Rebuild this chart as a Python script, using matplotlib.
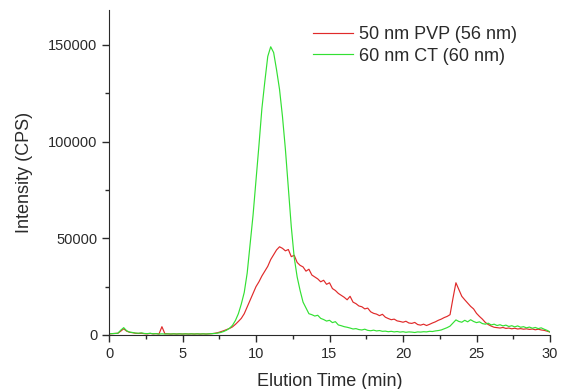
import numpy as np
import matplotlib
matplotlib.use('Agg')
import matplotlib.pyplot as plt
from matplotlib.ticker import MultipleLocator

plt.rcParams['font.family'] = ['Liberation Sans', 'DejaVu Sans']

# elution time (min), sampled every 0.2 min
time = np.round(np.arange(0, 30.01, 0.2), 1)

# 50 nm PVP (56 nm), CPS
pvp = [600, 700, 800, 900, 2000, 3200, 2000, 1400, 1200, 900,        # 0.0 - 1.8
       800, 900, 700, 600, 800, 600, 700, 500, 4300, 700,            # 2.0 - 3.8
       600, 500, 600, 500, 600, 500, 600, 500, 600, 500,             # 4.0 - 5.8
       600, 500, 600, 500, 600, 700, 900, 1200, 1700, 2200,          # 6.0 - 7.8
       2800, 3400, 4200, 5500, 7000, 8600, 11000, 14500, 18000, 21500,   # 8.0 - 9.8
       25000, 27500, 30500, 33000, 35500, 39000, 41500, 44000, 45600, 44800,  # 10.0 - 11.8
       43500, 44200, 40500, 41200, 37500, 36000, 35200, 33000, 34000, 31000,  # 12.0 - 13.8
       30000, 29000, 27500, 28300, 26200, 27000, 24000, 23000, 21500, 20500,  # 14.0 - 15.8
       19500, 18200, 20000, 17000, 16200, 15000, 14600, 13500, 13900, 12000,  # 16.0 - 17.8
       11200, 10800, 10000, 10700, 9200, 8500, 7900, 8200, 7300, 7000,        # 18.0 - 19.8
       6600, 7100, 6200, 6000, 6500, 5400, 5100, 5600, 4900, 5500,            # 20.0 - 21.8
       6200, 6800, 7600, 8200, 9000, 9600, 10500, 19000, 27000, 23500,        # 22.0 - 23.8
       20000, 18200, 16500, 14800, 13500, 11200, 9600, 8200, 6500, 5400,      # 24.0 - 25.8
       4600, 4000, 3800, 3600, 3900, 3400, 3600, 3200, 3500, 3100,            # 26.0 - 27.8
       3300, 3000, 3200, 2900, 3100, 2700, 3000, 2600, 2400, 2000,            # 28.0 - 29.8
       1500]                                                                  # 30.0

# 60 nm CT (60 nm)
ct = [600, 700, 800, 900, 2500, 3800, 2200, 1500, 1300, 1000,        # 0.0 - 1.8
      900, 1100, 800, 700, 900, 600, 700, 500, 600, 500,             # 2.0 - 3.8
      600, 500, 600, 500, 600, 500, 600, 500, 600, 500,              # 4.0 - 5.8
      600, 500, 600, 500, 600, 700, 800, 1000, 1300, 1800,           # 6.0 - 7.8
      2500, 3500, 5000, 7500, 11000, 16000, 22000, 32000, 47000, 62000,       # 8.0 - 9.8
      80000, 98000, 117000, 131000, 144000, 149000, 146000, 137000, 127000, 113000,  # 10.0 - 11.8
      96000, 76000, 56000, 40000, 30000, 23000, 17000, 14000, 11000, 10500,   # 12.0 - 13.8
      9800, 10200, 8600, 8000, 7200, 7600, 6400, 6900, 5200, 4800,           # 14.0 - 15.8
      4300, 4000, 3600, 3100, 3300, 2800, 2600, 3000, 2400, 2200,            # 16.0 - 17.8
      2500, 2100, 2300, 1900, 2000, 1700, 1900, 1600, 1800, 1500,            # 18.0 - 19.8
      1700, 1400, 1600, 1500, 1300, 1600, 1500, 1700, 1600, 1900,            # 20.0 - 21.8
      1800, 2100, 2300, 2600, 3200, 3800, 4600, 6200, 7800, 7000,            # 22.0 - 23.8
      6600, 7600, 6800, 7900, 7000, 6400, 6800, 5900, 5600, 6100,            # 24.0 - 25.8
      5200, 5600, 4900, 5300, 4700, 5100, 4400, 4800, 4200, 4700,            # 26.0 - 27.8
      4000, 4300, 3700, 4100, 3500, 3900, 3300, 3700, 3000, 2400,            # 28.0 - 29.8
      1600]                                                                  # 30.0

labels = ['50 nm PVP (56 nm)', '60 nm CT (60 nm)']

fig = plt.figure(figsize=(5.61, 3.89), dpi=100)
ax = fig.add_axes([109 / 561, 1 - 335 / 389, 441 / 561, 325 / 389])

ax.plot(time, pvp, color='#e02a2a', lw=0.85, label=labels[0])
ax.plot(time, ct, color='#33e033', lw=0.85, label=labels[1])

ax.set_xlim(0, 30)
ax.set_ylim(0, 168000)
ax.xaxis.set_major_locator(MultipleLocator(5))
ax.xaxis.set_minor_locator(MultipleLocator(2.5))
ax.yaxis.set_major_locator(MultipleLocator(50000))
ax.yaxis.set_minor_locator(MultipleLocator(25000))
ax.tick_params(which='major', direction='out', length=5, width=1, labelsize=10.5, colors='#2a2a2a')
ax.tick_params(which='minor', direction='out', length=3, width=1, colors='#2a2a2a')
for s in ['top', 'right']:
    ax.spines[s].set_visible(False)
for s in ['left', 'bottom']:
    ax.spines[s].set_color('#2a2a2a')

ax.set_xlabel('Elution Time (min)', fontsize=13, color='#2a2a2a', labelpad=9)
ax.set_ylabel('Intensity (CPS)', fontsize=13, color='#2a2a2a', labelpad=11)

fig.legend(loc='upper left', bbox_to_anchor=(313 / 561, 1 - 26 / 389), frameon=False,
           fontsize=13, handlelength=2.2, handletextpad=0.35, labelspacing=0.25,
           borderpad=0, borderaxespad=0, labelcolor='#2a2a2a')

fig.savefig('out.png', dpi=100)
